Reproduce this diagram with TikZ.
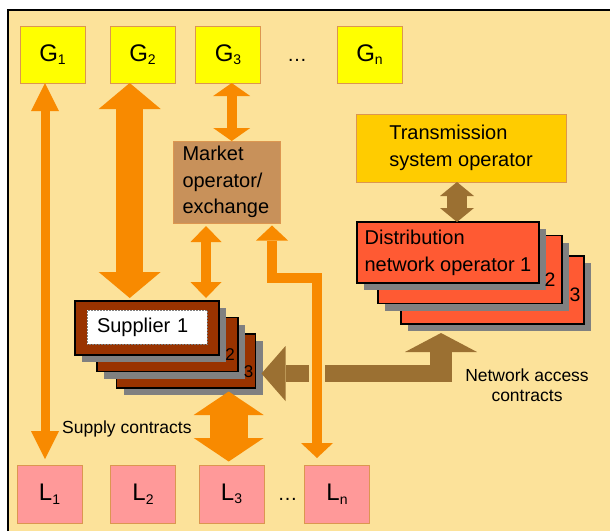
\documentclass[tikz,border=0pt]{standalone}
\usepackage{fontspec}
\setmainfont{Liberation Sans}
\usetikzlibrary{arrows.meta}
\usetikzlibrary{positioning, shadows, calc}

\definecolor{pagebg}{RGB}{252,226,154}
\definecolor{genyellow}{RGB}{255,255,0}
\definecolor{boxedge}{RGB}{220,150,80}
\definecolor{mktbrown}{RGB}{200,145,90}
\definecolor{tsogold}{RGB}{255,204,0}
\definecolor{dnored}{RGB}{255,90,51}
\definecolor{suppred}{RGB}{153,51,0}
\definecolor{loadpink}{RGB}{255,153,153}
\definecolor{floworange}{RGB}{248,138,0}
\definecolor{netbrown}{RGB}{155,112,50}

\newcommand{\subidx}[2]{#1\raisebox{-3.5pt}{\fontsize{14}{14}\selectfont #2}}
\newcommand{\boxfont}{\fontsize{20}{26.5}\selectfont}
\newcommand{\lblfont}{\fontsize{17.5}{20}\selectfont}

\begin{document}
\begin{tikzpicture}[
  x=1pt, y=-1pt,
  party/.style={draw=boxedge, line width=0.8pt, inner sep=0pt, outer sep=0pt,
    minimum width=65pt, minimum height=57pt, font=\fontsize{24}{24}\selectfont},
  gen/.style={party, fill=genyellow},
  load/.style={party, fill=loadpink, minimum height=58pt},
  role/.style={draw=boxedge, line width=0.8pt, inner sep=0pt, outer sep=0pt,
    align=left, font=\boxfont},
  card/.style={draw=black, line width=1.2pt, inner sep=0pt, outer sep=0pt,
    drop shadow={shadow xshift=7pt, shadow yshift=-7pt, fill=gray, opacity=1}},
  supp/.style={card, fill=suppred, minimum width=142pt, minimum height=54pt},
  dno/.style={card, fill=dnored, minimum width=183pt, minimum height=68pt,
    align=left, font=\boxfont},
  num/.style={inner sep=0pt, font=\fontsize{17}{17}\selectfont},
  lbl/.style={inner sep=0pt, font=\lblfont, align=center},
  fat/.style n args={3}{line width=#1,
    arrows={Triangle[width=#2,length=#3,line width=0pt]-Triangle[width=#2,length=#3,line width=0pt]}},
  fatone/.style n args={3}{line width=#1,
    arrows={-Triangle[width=#2,length=#3,line width=0pt]}}
]
\useasboundingbox (0,0) rectangle (610,531);

% --- Frame ---
\fill[white] (0,0) rectangle (610,531);
\fill[pagebg] (8,10) rectangle (610,531);
\draw[line width=2pt] (8,531) |- (610,10);

% --- Generators and loads ---
\node[gen] (G1) at (52.5,54.5) {\subidx{G}{1}};
\node[gen, right=25pt of G1] (G2) {\subidx{G}{2}};
\node[gen, right=20.5pt of G2] (G3) {\subidx{G}{3}};
\node[gen, right=76.5pt of G3] (Gn) {\subidx{G}{n}};
\node[inner sep=0pt, font=\boxfont] (Gdots) at (297,60.5) {\dots};

\node[load] (L1) at (49.5,494) {\subidx{L}{1}};
\node[load, right=28.5pt of L1] (L2) {\subidx{L}{2}};
\node[load, right=23.5pt of L2] (L3) {\subidx{L}{3}};
\node[load, right=40.5pt of L3] (Ln) {\subidx{L}{n}};
\node[inner sep=0pt, font=\boxfont] (Ldots) at (287.5,499.5) {\dots};

% --- Market and system operators ---
\node[role, fill=mktbrown, minimum width=107pt, minimum height=82pt, text width=88pt]
  (mkt) at (226.5,182) {Market\\operator/\\exchange};
\node[role, fill=tsogold, minimum width=210pt, minimum height=68pt,
  font=\fontsize{20}{27.5}\selectfont] (tso) at (461,148) {Transmission\\system operator};

% --- Stacks (back to front) ---
\node[dno] (dno3) at (492.5,290) {};
\node[dno, minimum width=184pt] (dno2) at (470,269.5) {};
\node[dno, minimum width=182pt, minimum height=61pt,
  font=\fontsize{20}{27.3}\selectfont] (dno1) at (448,252.5) {Distribution\\network operator 1};

\node[supp, minimum width=139pt] (sup3) at (186,361) {};
\node[supp, minimum width=141pt] (sup2) at (167.5,344.5) {};
\node[supp, minimum width=144pt] (sup1) at (147,328) {};
\node[draw=gray, densely dotted, line width=0.5pt, fill=white, minimum width=120pt,
  minimum height=34pt, inner sep=0pt, text width=100pt, align=left,
  font=\boxfont] (sup1tag) at (147,327) {Supplier 1};

\node[num] (sup2no) at ([shift={(-8,10)}]sup2.east) {2};
\node[num] (sup3no) at ([shift={(-7,10.7)}]sup3.east) {3};
\node[num, font=\fontsize{19.5}{19.5}\selectfont] (dno2no) at ([shift={(-12,10.5)}]dno2.east) {2};
\node[num, font=\fontsize{19.5}{19.5}\selectfont] (dno3no) at ([shift={(-9,4.5)}]dno3.east) {3};

% --- Network access (brown) ---
\coordinate (nacorner) at (452,373.5);
\coordinate (naup) at (441,382);
\draw[draw=netbrown, fat={19.5pt}{34pt}{14pt}]
  ([xshift=-4pt]tso.south) -- ([xshift=-4pt]tso.south |- dno1.north);
\draw[draw=netbrown, fatone={17pt}{55pt}{24pt}]
  (nacorner) -- ([xshift=6pt]sup3.east |- nacorner);
\draw[draw=netbrown, fatone={22pt}{72pt}{19pt}, shorten >=9pt]
  (naup) -- (naup |- dno3.south);

% --- Energy and money flows (orange) ---
\draw[draw=floworange, fat={9pt}{28pt}{28pt}, shorten >=6pt]
  ([xshift=-7.5pt]G1.south) -- ([xshift=-7.5pt]G1.south |- L1.north);
\draw[draw=floworange, fat={27pt}{62pt}{26pt}, shorten >=3pt]
  ([xshift=-12.8pt]G2.south) -- ([xshift=-12.8pt]G2.south |- sup1.north);
\draw[draw=floworange, fat={10pt}{37pt}{13pt}]
  ([xshift=3.7pt]G3.south) -- ([xshift=3.7pt]G3.south |- mkt.north);
\draw[draw=floworange, fat={10pt}{31pt}{16pt}, shorten <=3pt, shorten >=3pt]
  ([xshift=-20.5pt]mkt.south) -- ([xshift=-20.5pt]mkt.south |- sup1.north);
\coordinate (mkturn) at (272,278);
\draw[draw=floworange, fat={10pt}{32pt}{15pt}, shorten <=7pt, shorten >=2.5pt,
  preaction={draw=pagebg, line width=16pt, arrows=-, shorten <=30pt, shorten >=30pt}]
  ([xshift=-20pt]Ln.north) |- (mkturn) -- (mkturn |- mkt.south);
\draw[draw=floworange, fat={38pt}{70pt}{23.5pt}, shorten <=3.5pt, shorten >=3.5pt]
  ([xshift=-2.8pt]L3.north |- sup3.south) -- ([xshift=-2.8pt]L3.north);

% --- Labels ---
\node[lbl, anchor=base west] (supplylbl) at (62,433) {Supply contracts};
\node[lbl] (netlbl) at (527,385.5) {Network access\\contracts};

\end{tikzpicture}
\end{document}
